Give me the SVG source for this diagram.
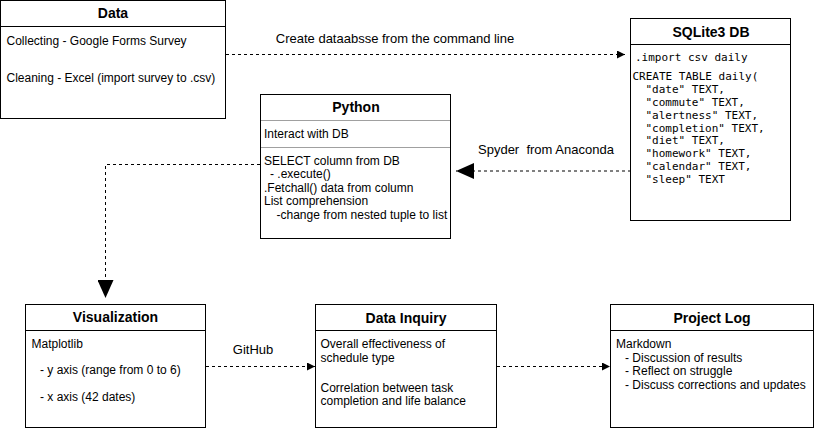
<svg xmlns="http://www.w3.org/2000/svg" width="816" height="429" viewBox="0 0 816 429">
<style>
.box{fill:#fff;stroke:#000;stroke-width:1}
.sep{stroke:#000;stroke-width:1}
.sepg{stroke:#a0a0a0;stroke-width:1}
.title{font-family:"Liberation Sans",Arial,sans-serif;font-weight:bold;font-size:14px;text-anchor:middle;fill:#000}
.body{font-family:"Liberation Sans",Arial,sans-serif;font-size:12px;fill:#000}
.mono{font-family:"DejaVu Sans Mono",monospace;font-size:11px;fill:#000}
.lbl{font-family:"Liberation Sans",Arial,sans-serif;font-size:13px;fill:#000}
.edge{fill:none;stroke:#000;stroke-width:1;stroke-dasharray:3 3}
</style>
<defs>
<marker id="sm" markerUnits="userSpaceOnUse" viewBox="0 0 8 8" refX="8" refY="4" markerWidth="8" markerHeight="8" orient="auto">
<path d="M0,0 L8,4 L0,8 z" fill="#000"/>
</marker>
<marker id="lg" markerUnits="userSpaceOnUse" viewBox="0 0 18 16" refX="18" refY="8" markerWidth="18" markerHeight="16" orient="auto">
<path d="M0,0 L18,8 L0,16 z" fill="#000"/>
</marker>
</defs>
<rect width="816" height="429" fill="#fff"/>

<g id="connectors">
<path class="edge" d="M226,54.5 L625,54.5" marker-end="url(#sm)"/>
<text class="lbl" x="395" y="43" text-anchor="middle">Create dataabsse from the command line</text>
<path class="edge" d="M631,171 L456,171" marker-end="url(#lg)"/>
<text class="lbl" x="478" y="154" xml:space="preserve">Spyder  from Anaconda</text>
<path class="edge" d="M260,164.5 L105.5,164.5 L105.5,298" marker-end="url(#lg)"/>
<path class="edge" d="M206,366.5 L315,366.5" marker-end="url(#sm)"/>
<text class="lbl" x="253" y="354" text-anchor="middle">GitHub</text>
<path class="edge" d="M497,366.5 L610,366.5" marker-end="url(#sm)"/>
</g>

<g id="data">
<rect class="box" x="0.5" y="0.5" width="225" height="118"/>
<line class="sep" x1="0.5" y1="26.5" x2="225.5" y2="26.5"/>
<text class="title" x="113" y="17.5">Data</text>
<text class="body" x="6.5" y="44.5">Collecting - Google Forms Survey</text>
<text class="body" x="6.5" y="81.5">Cleaning - Excel (import survey to .csv)</text>
</g>

<g id="sqlite">
<rect class="box" x="630.5" y="18.5" width="160" height="202"/>
<line class="sep" x1="630.5" y1="44.5" x2="790.5" y2="44.5"/>
<text class="title" x="711" y="37">SQLite3 DB</text>
<text class="mono" x="635" y="61">.import csv daily</text>
<text class="mono" x="632.5" y="80">CREATE TABLE daily(</text>
<text class="mono" x="645.5" y="92.9">"date" TEXT,</text>
<text class="mono" x="645.5" y="105.8">"commute" TEXT,</text>
<text class="mono" x="645.5" y="118.7">"alertness" TEXT,</text>
<text class="mono" x="645.5" y="131.5">"completion" TEXT,</text>
<text class="mono" x="645.5" y="144.4">"diet" TEXT,</text>
<text class="mono" x="645.5" y="157.3">"homework" TEXT,</text>
<text class="mono" x="645.5" y="170.1">"calendar" TEXT,</text>
<text class="mono" x="645.5" y="183">"sleep" TEXT</text>
</g>

<g id="python">
<rect class="box" x="260.5" y="94.5" width="190" height="144"/>
<line class="sepg" x1="261" y1="120.5" x2="450" y2="120.5"/>
<line class="sepg" x1="261" y1="147.5" x2="450" y2="147.5"/>
<text class="title" x="356" y="111.5">Python</text>
<text class="body" x="264" y="138">Interact with DB</text>
<text class="body" x="264" y="164.5">SELECT column from DB</text>
<text class="body" x="270" y="178">- .execute()</text>
<text class="body" x="264" y="191.5">.Fetchall() data from column</text>
<text class="body" x="264" y="205">List comprehension</text>
<text class="body" x="276.5" y="218.5">-change from nested tuple to list</text>
</g>

<g id="visualization">
<rect class="box" x="25.5" y="304.5" width="180" height="123"/>
<line class="sep" x1="25.5" y1="330.5" x2="205.5" y2="330.5"/>
<text class="title" x="115.5" y="322">Visualization</text>
<text class="body" x="31.5" y="347.5">Matplotlib</text>
<text class="body" x="40" y="374">- y axis (range from 0 to 6)</text>
<text class="body" x="40" y="400.5">- x axis (42 dates)</text>
</g>

<g id="inquiry">
<rect class="box" x="315.5" y="304.5" width="181" height="123"/>
<line class="sep" x1="315.5" y1="330.5" x2="496.5" y2="330.5"/>
<text class="title" x="406" y="322.5">Data Inquiry</text>
<text class="body" x="320.5" y="348">Overall effectiveness of</text>
<text class="body" x="320.5" y="361.5">schedule type</text>
<text class="body" x="320.5" y="391.5">Correlation between task</text>
<text class="body" x="320.5" y="405">completion and life balance</text>
</g>

<g id="projectlog">
<rect class="box" x="610.5" y="304.5" width="203" height="123"/>
<line class="sep" x1="610.5" y1="330.5" x2="813.5" y2="330.5"/>
<text class="title" x="712" y="322.5">Project Log</text>
<text class="body" x="616" y="348">Markdown</text>
<text class="body" x="625" y="361.5">- Discussion of results</text>
<text class="body" x="625" y="375">- Reflect on struggle</text>
<text class="body" x="625" y="389">- Discuss corrections and updates</text>
</g>
</svg>
